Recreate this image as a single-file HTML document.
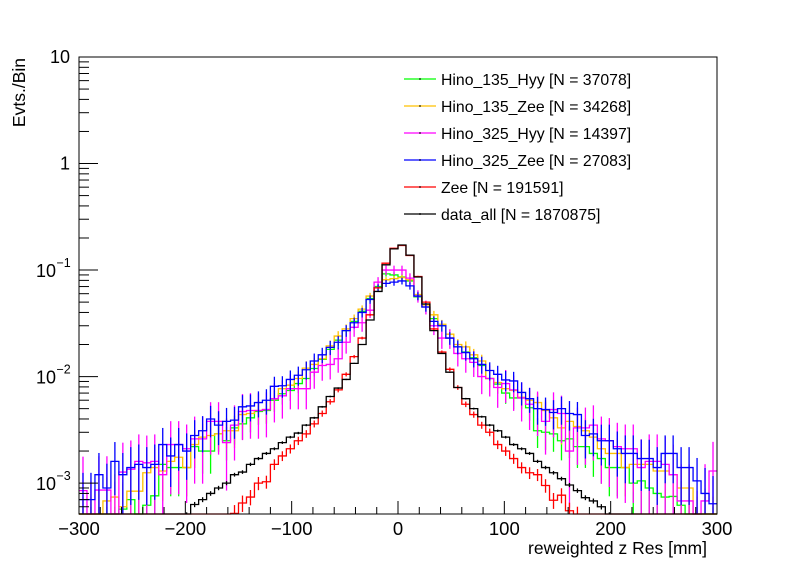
<!DOCTYPE html>
<html><head><meta charset="utf-8"><style>
body{margin:0;background:#fff;width:796px;height:572px;overflow:hidden}
svg{display:block;font-family:"Liberation Sans",Arial,sans-serif}
</style></head><body>
<svg id="c" width="796" height="572" xmlns="http://www.w3.org/2000/svg">
<rect x="0" y="0" width="796" height="572" fill="#fff"/>
<g id="plot"></g>
<g id="axes"></g>
<g id="legend"></g>
</svg>
<script>
const xMin = -300, xMax = 300, nBins = 80;
const yMinLog = -3.29, yMaxLog = 1;
const xTicks = [-300, -200, -100, 0, 100, 200, 300];
const xTickLabels = ["\u2212300", "\u2212200", "\u2212100", "0", "100", "200", "300"];
const seriesNames = ["Hino_135_Hyy [N = 37078]", "Hino_135_Zee [N = 34268]", "Hino_325_Hyy [N = 14397]", "Hino_325_Zee [N = 27083]", "Zee [N = 191591]", "data_all [N = 1870875]"];
const seriesColors = ["#00ff00", "#ffc000", "#ff00ff", "#0000ff", "#ff0000", "#000000"];
const errScale = [3e-4, 3e-4, 1e-3, 4.3e-4, 2e-5, 2e-6];

const green = [3e-4,3e-4,3e-4,3e-4,3e-4,5.7e-4,7e-4,4e-4,6.2e-4,7.6e-4,
 1.5e-3,1.4e-3,1.4e-3,1.4e-3,2.2e-3,2.0e-3,2.0e-3,2.9e-3,2.5e-3,3.3e-3,
 3.6e-3,4.1e-3,4.7e-3,4.8e-3,6.0e-3,6.9e-3,7.4e-3,8.6e-3,9.6e-3,1.19e-2,
 0.0145,0.018,0.022,0.027,0.033,0.041,0.054,0.07,0.092,0.09,
 0.086,0.079,0.056,0.045,0.035,0.030,0.023,0.019,0.017,0.015,
 0.0127,0.0096,0.0085,0.007,0.0063,0.0063,0.0051,0.0031,0.003,0.0029,
 0.0025,0.0026,0.0022,0.0022,0.0019,0.0017,0.0014,0.0014,0.0014,0.001,
 0.00105,9e-4,8e-4,7.4e-4,7.5e-4,6.2e-4,5e-4,3e-4,5e-4,3e-4];
const yellow = [4e-4,4e-4,5e-4,6.8e-4,7.4e-4,6e-4,8.4e-4,8.4e-4,1.25e-3,1.4e-3,
 1.3e-3,1.6e-3,1.75e-3,1.4e-3,2.3e-3,2.7e-3,2.8e-3,2.9e-3,3.1e-3,3.1e-3,
 4.4e-3,4.5e-3,4.8e-3,4.9e-3,6.2e-3,7.7e-3,8.3e-3,9.6e-3,1.2e-2,1.3e-2,
 0.0147,0.0194,0.024,0.028,0.035,0.043,0.057,0.068,0.081,0.083,
 0.085,0.081,0.059,0.047,0.038,0.031,0.025,0.02,0.019,0.016,
 0.014,0.0096,0.0088,0.0077,0.0074,0.0064,0.006,0.0057,0.0048,0.0041,
 0.0033,0.0038,0.0034,0.0031,0.0027,0.0021,0.0019,0.0019,0.0014,0.0015,
 0.0015,0.0015,0.0013,0.0013,0.0012,9e-4,9e-4,4e-4,4e-4,4e-4];
const magenta = [8.5e-4,4e-4,8.6e-4,8.6e-4,4e-4,1.27e-3,1.35e-3,1.6e-3,1.55e-3,1.6e-3,
 1.2e-3,2.3e-3,2.3e-3,2.1e-3,2.6e-3,2.6e-3,3.8e-3,3.8e-3,2.4e-3,3.5e-3,
 4.7e-3,4.8e-3,4.8e-3,4.9e-3,6.2e-3,6.6e-3,7.7e-3,7.7e-3,7.7e-3,1.1e-2,
 0.0127,0.013,0.0147,0.021,0.029,0.032,0.042,0.077,0.1,0.1,
 0.1,0.084,0.057,0.045,0.03,0.023,0.023,0.0165,0.0147,0.0136,
 0.01,0.0096,0.0079,0.0086,0.0075,0.0063,0.0055,0.005,0.0038,0.0049,
 0.0045,0.002,0.0033,0.0033,0.0035,0.0026,0.0025,0.0022,0.0021,0.0021,
 0.0014,0.0016,0.0016,0.0015,0.0012,6.8e-4,6.8e-4,3e-4,6.8e-4,0.0013];
const blue = [7e-4,7e-4,1.2e-3,9e-4,1.6e-3,1.2e-3,1.4e-3,1.5e-3,1.4e-3,1.5e-3,
 2.3e-3,1.8e-3,2.3e-3,2.0e-3,2.8e-3,3.1e-3,4.0e-3,3.5e-3,3.8e-3,3.9e-3,
 5.2e-3,5.3e-3,5.7e-3,6.0e-3,8.1e-3,8.2e-3,9.4e-3,1.03e-2,1.16e-2,1.4e-2,
 0.016,0.0188,0.021,0.027,0.032,0.040,0.053,0.068,0.075,0.077,
 0.079,0.071,0.057,0.045,0.033,0.030,0.023,0.019,0.0168,0.0147,
 0.013,0.0114,0.0105,0.0093,0.0091,0.0071,0.0062,0.0050,0.0049,0.0046,
 0.0050,0.0045,0.0044,0.0028,0.0029,0.0025,0.0025,0.0021,0.0019,0.0019,
 0.0017,0.0017,0.0014,0.0019,0.0019,0.0014,0.0014,0.00105,8e-4,6.4e-4];
const red = [0,0,0,0,0,0,0,0,0,0,
 0,0,0,0,0,0,0,0,0,5.2e-4,
 6.5e-4,7.4e-4,1.0e-3,1.03e-3,1.5e-3,1.8e-3,2.1e-3,2.5e-3,2.9e-3,3.6e-3,
 0.0045,0.0058,0.0075,0.0105,0.0154,0.023,0.038,0.068,0.116,0.16,
 0.17,0.137,0.087,0.05,0.028,0.017,0.0117,0.0079,0.0055,0.0044,
 0.0035,0.003,0.0023,0.002,0.0017,0.0014,0.00125,0.0012,0.00095,6.9e-4,
 7.7e-4,5.5e-4,5e-4,0,0,0,0,0,0,0,
 0,0,0,0,0,0,0,0,0,0];
const dataAll = [0,0,0,0,0,0,0,0,0,0,
 0,0,0,5e-4,6.3e-4,7e-4,8e-4,9e-4,1.0e-3,1.2e-3,
 1.27e-3,1.5e-3,1.7e-3,1.9e-3,2.1e-3,2.4e-3,2.7e-3,2.95e-3,3.5e-3,4.1e-3,
 0.0052,0.0065,0.0078,0.0094,0.0133,0.020,0.034,0.063,0.112,0.158,
 0.172,0.138,0.086,0.048,0.027,0.0165,0.011,0.0079,0.0062,0.005,
 0.0042,0.0035,0.0031,0.0027,0.0023,0.0021,0.0019,0.0016,0.0014,0.00125,
 0.0011,9.6e-4,8.5e-4,7.3e-4,6.8e-4,6e-4,5e-4,0,0,0,
 0,0,0,0,0,0,0,0,0,0];
const allSeries = [green, yellow, magenta, blue, red, dataAll];

const L = 79, R = 717, T = 57, B = 514;
const NS = "http://www.w3.org/2000/svg";
function xPos(v){ return L + (v - xMin) / (xMax - xMin) * (R - L); }
function yPos(v){
  if (!(v > 0)) return B;
  let lg = Math.log10(v);
  if (lg < yMinLog) lg = yMinLog;
  if (lg > yMaxLog) lg = yMaxLog;
  return B - (lg - yMinLog) / (yMaxLog - yMinLog) * (B - T);
}
function mk(tag, attrs, parent){
  const e = document.createElementNS(NS, tag);
  for (const k in attrs) e.setAttribute(k, attrs[k]);
  parent.appendChild(e);
  return e;
}
const plot = document.getElementById('plot');
const axes = document.getElementById('axes');
const legend = document.getElementById('legend');
const bw = (xMax - xMin) / nBins;
const keys = ["hino-135-hyy","hino-135-zee","hino-325-hyy","hino-325-zee","zee","data-all"];

allSeries.forEach((vals, s) => {
  const g = mk('g', {}, plot);
  
  
  let d = '';
  for (let i = 0; i < nBins; i++) {
    const x0 = xPos(xMin + i * bw), x1 = xPos(xMin + (i + 1) * bw);
    const y = yPos(vals[i]);
    d += (i === 0 ? 'M' + x0 + ',' + y : 'L' + x0 + ',' + y) + 'L' + x1 + ',' + y;
  }
  const p = mk('path', {d: d, fill: 'none', stroke: seriesColors[s], 'stroke-width': 1.3}, g);
  
  
  for (let i = 0; i < nBins; i++) {
    const v = vals[i];
    if (!(v > 0)) continue;
    const err = Math.sqrt(v * errScale[s]);
    const xc = xPos(xMin + (i + 0.5) * bw);
    const eb = mk('line', {x1: xc, x2: xc, y1: yPos(v + err), y2: yPos(v - err), stroke: seriesColors[s], 'stroke-width': 1.3}, g);
    
    
  }
});

const fr = mk('rect', {x: L, y: T, width: R - L, height: B - T, fill: 'none', stroke: '#000', 'stroke-width': 1}, axes);



for (let v = xMin; v <= xMax; v += 20) {
  const x = xPos(v);
  const major = (v % 100 === 0);
  const len = major ? 13 : 7;
  mk('line', {x1: x, x2: x, y1: B, y2: B - len, stroke: '#000', 'stroke-width': 1}, axes);
}
xTicks.forEach((v, k) => {
  const t = mk('text', {x: xPos(v), y: B + 21, 'font-size': 18.5, 'text-anchor': 'middle', fill: '#000'}, axes);
  t.textContent = xTickLabels[k];
  
  
});
const xt = mk('text', {x: 707, y: 554, 'font-size': 17.5, 'text-anchor': 'end', fill: '#000'}, axes);
xt.textContent = 'reweighted z Res [mm]';



for (let e = -4; e <= 1; e++) {
  for (let m = 1; m <= 9; m++) {
    const v = m * Math.pow(10, e);
    const lg = Math.log10(v);
    if (lg < yMinLog - 1e-9 || lg > yMaxLog + 1e-9) continue;
    const y = yPos(v);
    const len = m === 1 ? 19 : 10;
    mk('line', {x1: L, x2: L + len, y1: y, y2: y, stroke: '#000', 'stroke-width': 1}, axes);
  }
}
const yLabels = [[10, '10'], [1, '1']];
yLabels.forEach(([v, s]) => {
  const t = mk('text', {x: L - 9, y: yPos(v) + 6, 'font-size': 18, 'text-anchor': 'end', fill: '#000'}, axes);
  t.textContent = s;
  
  
});
[-1, -2, -3].forEach(e => {
  const y = yPos(Math.pow(10, e));
  const t = mk('text', {x: 36, y: y + 7, 'font-size': 18, fill: '#000'}, axes);
  t.textContent = '10';
  
  
  const sup = mk('text', {x: 56.5, y: y - 3, 'font-size': 12.5, fill: '#000'}, axes);
  sup.textContent = '\u2212' + (-e);
  
  
});
const yt = mk('text', {x: 0, y: 0, 'font-size': 17.5, 'text-anchor': 'end', fill: '#000', transform: 'translate(25,58) rotate(-90)'}, axes);
yt.textContent = 'Evts./Bin';



seriesNames.forEach((name, s) => {
  const y = 79 + s * 27;
  const g = mk('g', {}, legend);
  
  
  mk('line', {x1: 404, x2: 436, y1: y, y2: y, stroke: seriesColors[s], 'stroke-width': 1.3}, g);
  mk('line', {x1: 420, x2: 420, y1: y - 1, y2: y + 1, stroke: '#000', 'stroke-width': 1}, g);
  const t = mk('text', {x: 441, y: y + 6, 'font-size': 15.8, fill: '#000'}, g);
  t.textContent = name;
});
</script>
</body></html>
